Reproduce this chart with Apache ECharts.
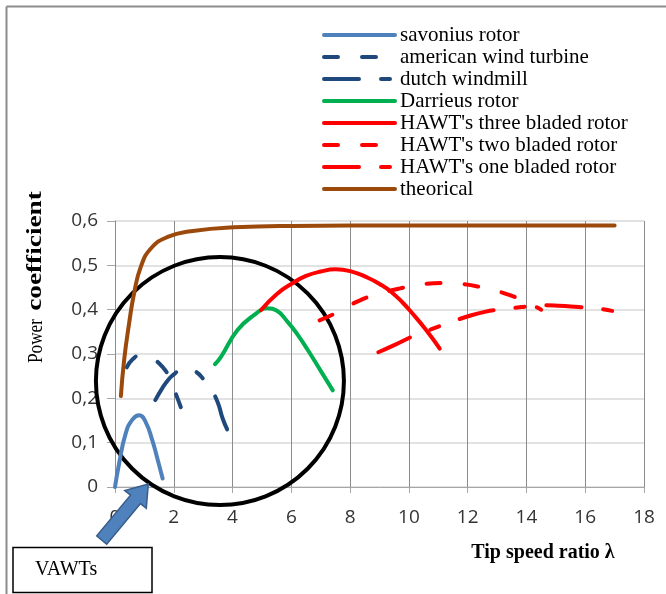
<!DOCTYPE html>
<html>
<head>
<meta charset="utf-8">
<script src="https://cdn.jsdelivr.net/npm/echarts@6/dist/echarts.min.js"></script>
<style>
html,body{margin:0;padding:0;background:#fff;}
#c{width:666px;height:594px;}
</style>
</head>
<body>
<div id="c"></div>
<script>
// ---- data ----
var seriesNames = ["savonius rotor","american wind turbine","dutch windmill","Darrieus rotor",
  "HAWT's three bladed rotor","HAWT's two bladed rotor","HAWT's one bladed rotor","theorical"];
var savonius = [[0,0],[0.14,0.053],[0.36,0.12],[0.59,0.152],[0.82,0.162],[1.04,0.147],[1.27,0.105],[1.45,0.062],[1.62,0.019]];
var american = [[0.4,0.27],[0.6,0.288],[0.85,0.297],[1.1,0.296],[1.35,0.287],[1.6,0.272],[1.8,0.254],[2.0,0.222],[2.24,0.18]];
var dutch = [[1.37,0.196],[1.6,0.222],[1.8,0.241],[2.0,0.254],[2.2,0.263],[2.45,0.267],[2.75,0.26],[3.0,0.244],[3.25,0.222],[3.5,0.19],[3.66,0.155],[3.83,0.128]];
var darrieus = [[3.4,0.277],[3.6,0.293],[4.17,0.354],[4.74,0.388],[5.19,0.403],[5.5,0.398],[5.88,0.372],[6.2,0.345],[6.56,0.309],[7.0,0.262],[7.41,0.218]];
var hawt3 = [[4.97,0.399],[5.5,0.435],[6.05,0.46],[6.5,0.476],[7.0,0.486],[7.5,0.491],[8.0,0.487],[8.6,0.472],[9.0,0.458],[9.4,0.44],[9.8,0.415],[10.1,0.393],[10.6,0.353],[11.05,0.312]];
var hawt2 = [[6.96,0.376],[7.6,0.395],[8.3,0.42],[9.0,0.436],[9.7,0.448],[10.5,0.458],[11.2,0.46],[11.8,0.458],[12.5,0.45],[13.2,0.438],[13.8,0.423],[14.5,0.4]];
var hawt1 = [[8.96,0.304],[9.5,0.32],[10.2,0.342],[10.77,0.356],[11.4,0.371],[11.96,0.384],[12.58,0.395],[13.2,0.401],[13.84,0.406],[14.45,0.41],[15.1,0.409],[15.77,0.406],[16.4,0.403],[17.08,0.395]];
var theoretical = [[0.2,0.205],[0.31,0.286],[0.48,0.369],[0.65,0.437],[0.88,0.497],[1.22,0.538],[1.79,0.564],[2.58,0.577],[4.06,0.586],[6,0.589],[10,0.59],[17,0.59]];
var circleCenter = [3.57, 0.239];
var xAxisTitle = "Tip speed ratio \u03bb";
var yTitleA = "Power";
var yTitleB = "coefficient";
var boxLabel = "VAWTs";

var seriesData = [savonius, american, dutch, darrieus, hawt3, hawt2, hawt1, theoretical];
var colors = ["#4f81bd","#1f497d","#1f497d","#00b050","#ff0000","#ff0000","#ff0000","#9c4a0c"];
var dashShort = [14, 24];
var dashLong = [35, 22, 9, 22];
var types = ["solid", dashShort, dashLong, "solid", "solid", dashShort, dashLong, "solid"];

var chart = echarts.init(document.getElementById('c'), null, {renderer:'canvas'});

var series = seriesNames.map(function(n, i){
  return {
    name: n, type: 'line', data: seriesData[i], showSymbol: false, symbol: 'none',
    smooth: 0.5,
    lineStyle: {color: colors[i], width: 4, type: types[i], cap: 'round', join: 'round'},
    itemStyle: {color: colors[i]},
    z: 3
  };
});

chart.setOption({
  animation: false,
  backgroundColor: '#fff',
  grid: {left: 115, right: 22, top: 221, bottom: 107, containLabel: false},
  legend: {
    orient: 'vertical', left: 317, top: 19,
    itemWidth: 71, itemHeight: 2, itemGap: 0,
    data: seriesNames,
    textStyle: {fontFamily: 'Liberation Serif', fontSize: 21, color: '#000', lineHeight: 22},
    lineStyle: {width: 4},
    itemStyle: {opacity: 0, borderWidth: 0},
    selectedMode: false
  },
  xAxis: {
    type: 'value', min: 0, max: 18, interval: 2,
    axisLine: {show: true, lineStyle: {color: '#a6a6a6', width: 1}},
    axisTick: {show: true, length: 6, lineStyle: {color: '#a6a6a6'}},
    axisLabel: {fontFamily: 'Open Sans', fontSize: 19, color: '#333', margin: 21},
    splitLine: {show: true, lineStyle: {color: '#8c8c8c', width: 1}}
  },
  yAxis: {
    type: 'value', min: 0, max: 0.6, interval: 0.1,
    axisLine: {show: true, lineStyle: {color: '#8c8c8c', width: 1}},
    axisTick: {show: true, length: 8, lineStyle: {color: '#a6a6a6'}},
    axisLabel: {fontFamily: 'Open Sans', fontSize: 19, color: '#333', margin: 17,
      formatter: function(v){ return v === 0 ? '0' : v.toFixed(1).replace('.', ','); }},
    splitLine: {show: true, lineStyle: {color: '#d9d9d9', width: 1.5}}
  },
  series: series
});

var c = chart.convertToPixel({gridIndex: 0}, circleCenter);

chart.setOption({
  graphic: [
    {type: 'line', shape: {x1: 6.5, y1: 6.5, x2: 666, y2: 6.5}, style: {stroke: '#8c8c8c', lineWidth: 2}, z: 50},
    {type: 'line', shape: {x1: 6.5, y1: 6.5, x2: 6.5, y2: 594}, style: {stroke: '#8c8c8c', lineWidth: 2}, z: 50},
    {type: 'circle', shape: {cx: c[0], cy: c[1], r: 124}, style: {fill: 'none', stroke: '#000', lineWidth: 4}, z: 1},
    {type: 'polygon', shape: {points: [[148.3,484],[146.3,508.3],[140.5,503.6],[106.7,544.2],[96.7,535.8],[130.5,495.2],[124.7,490.5]]},
      style: {fill: '#4f81bd', stroke: '#385d8a', lineWidth: 1.5}, z: 100},
    {type: 'rect', shape: {x: 13, y: 547.5, width: 139, height: 45}, style: {fill: '#fff', stroke: '#000', lineWidth: 1.5}, z: 100},
    {type: 'text', x: 35, y: 570, style: {text: boxLabel, fontFamily: 'Liberation Serif', fontSize: 20, fill: '#000', verticalAlign: 'middle', align: 'left'}, z: 101},
    {type: 'text', x: 543, y: 553, style: {text: xAxisTitle, fontFamily: 'Liberation Serif', fontWeight: 'bold', fontSize: 20, fill: '#000', verticalAlign: 'middle', align: 'center'}, z: 101},
    {type: 'text', x: 36, y: 341, rotation: Math.PI/2, scaleX: 0.82, style: {text: yTitleA, fontFamily: 'Liberation Serif', fontSize: 21, fill: '#000', verticalAlign: 'middle', align: 'center'}, z: 101},
    {type: 'text', x: 36, y: 251, rotation: Math.PI/2, scaleX: 1.3, style: {text: yTitleB, fontFamily: 'Liberation Serif', fontWeight: 'bold', fontSize: 21, fill: '#000', verticalAlign: 'middle', align: 'center'}, z: 101}
  ]
});
</script>
</body>
</html>
